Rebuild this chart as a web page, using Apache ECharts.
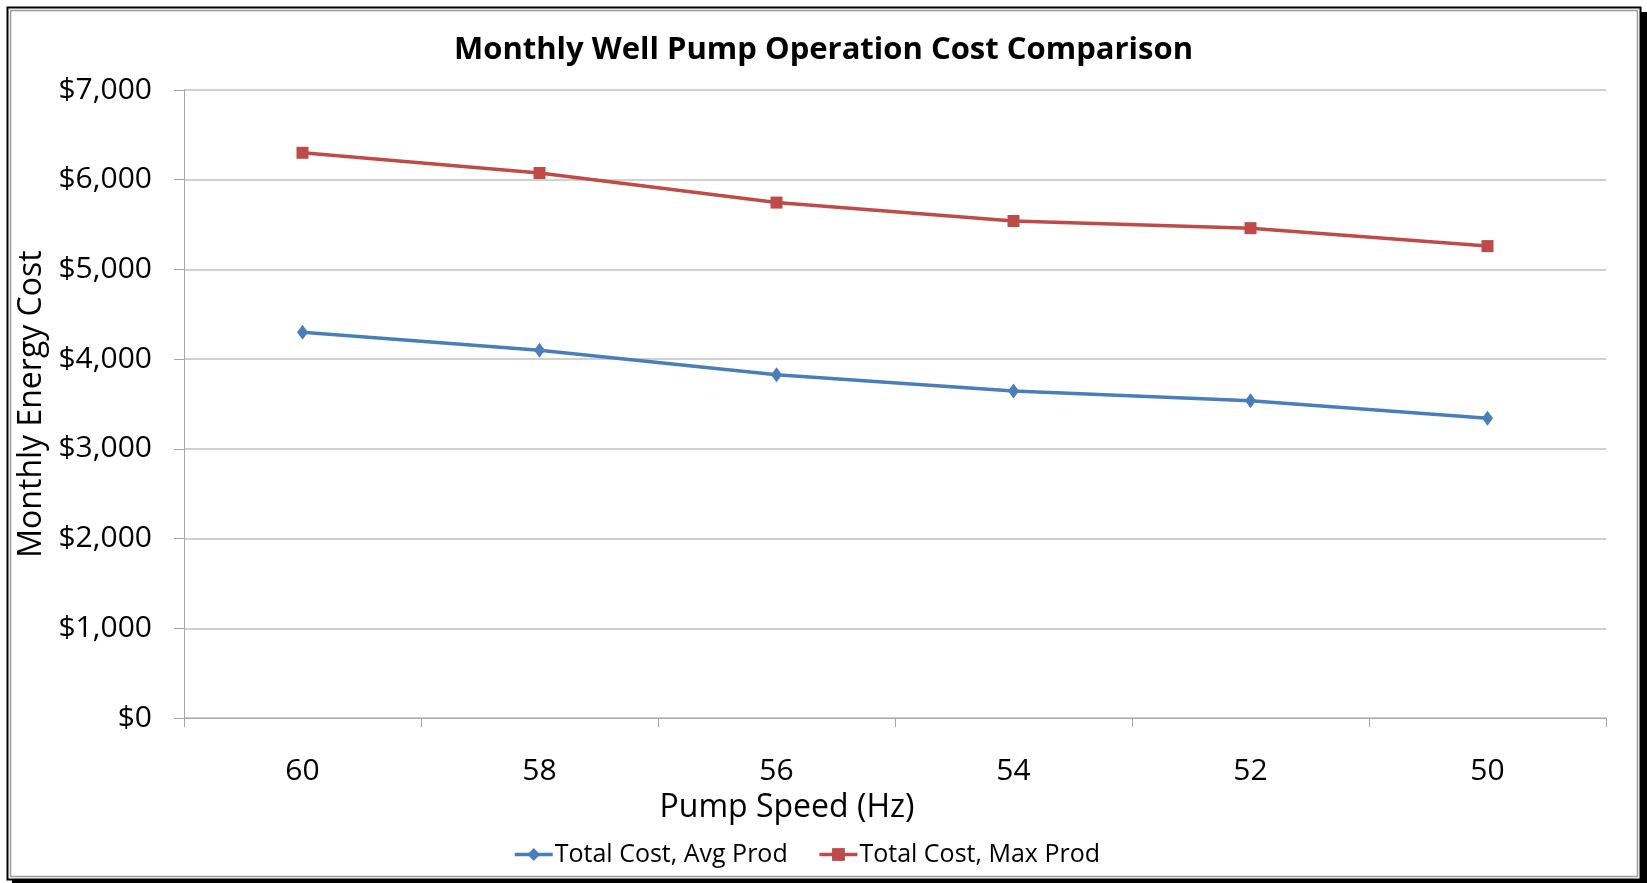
<!DOCTYPE html>
<html>
<head>
<meta charset="utf-8">
<title>Monthly Well Pump Operation Cost Comparison</title>
<script src="https://cdn.jsdelivr.net/npm/echarts@6/dist/echarts.min.js"></script>
<style>
  html, body { margin: 0; padding: 0; background: #fff; }
  #chart { width: 1647px; height: 883px; }
</style>
</head>
<body>
<div id="chart"></div>
<script>
// pump speed categories (Hz)
var speeds = ['60', '58', '56', '54', '52', '50'];
// monthly cost
var avgProd = [4300, 4100, 3825, 3645, 3535, 3340];
var maxProd = [6300, 6075, 5745, 5540, 5460, 5260];
var seriesNames = ['Total Cost, Avg Prod', 'Total Cost, Max Prod'];

var font = '"Open Sans", sans-serif';

function money(v) {
  return '$' + String(v).replace(/\B(?=(\d{3})+(?!\d))/g, ',');
}

var chart = echarts.init(document.getElementById('chart'));

var option = {
  backgroundColor: '#ffffff',
  animation: false,
  textStyle: { fontFamily: font, color: '#000' },
  title: {
    text: 'Monthly Well Pump Operation Cost Comparison',
    left: 'center',
    top: 30,
    textStyle: { fontFamily: font, fontSize: 31, fontWeight: 'bold', color: '#000' }
  },
  legend: {
    data: seriesNames,
    left: 508,
    top: 837,
    itemWidth: 38,
    itemHeight: 16,
    itemGap: 30,
    lineStyle: { width: 3.5 },
    textStyle: { fontFamily: font, fontSize: 25, color: '#000', padding: [0, 0, 0, -3] }
  },
  grid: { left: 184, right: 41, top: 90, bottom: 165 },
  xAxis: {
    type: 'category',
    data: speeds,
    name: 'Pump Speed (Hz)',
    nameLocation: 'middle',
    nameGap: 74,
    nameTextStyle: { fontFamily: font, fontSize: 32, color: '#000', padding: [0, 216, 0, 0] },
    axisLine: { lineStyle: { color: '#a6a6a6', width: 1 } },
    axisTick: { show: true, length: 9, lineStyle: { color: '#a6a6a6' } },
    axisLabel: { fontFamily: font, fontSize: 30, color: '#000', margin: 38 }
  },
  yAxis: {
    type: 'value',
    min: 0,
    max: 7000,
    interval: 1000,
    name: 'Monthly Energy Cost',
    nameLocation: 'middle',
    nameGap: 130,
    nameTextStyle: { fontFamily: font, fontSize: 32, color: '#000' },
    axisLine: { show: true, lineStyle: { color: '#a6a6a6', width: 1 } },
    axisTick: { show: true, length: 10, lineStyle: { color: '#a6a6a6' } },
    axisLabel: { fontFamily: font, fontSize: 30, color: '#000', margin: 32, formatter: money },
    splitLine: { show: true, lineStyle: { color: '#c0c0c0', width: 1.5 } }
  },
  series: [
    {
      name: seriesNames[0],
      type: 'line',
      data: avgProd,
      symbol: 'diamond',
      symbolSize: [11, 15],
      itemStyle: { color: '#4A7EBB' },
      lineStyle: { color: '#4A7EBB', width: 3.5 }
    },
    {
      name: seriesNames[1],
      type: 'line',
      data: maxProd,
      symbol: 'rect',
      symbolSize: 12,
      itemStyle: { color: '#BE4B48' },
      lineStyle: { color: '#BE4B48', width: 3.5 }
    }
  ],
  graphic: [
    // drop shadow on right and bottom
    { type: 'rect', z: -10, silent: true, shape: { x: 1640, y: 12, width: 7, height: 871 }, style: { fill: '#000' } },
    { type: 'rect', z: -10, silent: true, shape: { x: 12, y: 879, width: 1635, height: 4 }, style: { fill: '#000' } },
    // outer frame
    { type: 'rect', z: -10, silent: true, shape: { x: 7.5, y: 7.5, width: 1633, height: 872 }, style: { fill: null, stroke: '#000', lineWidth: 2 } },
    { type: 'rect', z: -10, silent: true, shape: { x: 10.5, y: 10.5, width: 1627, height: 866 }, style: { fill: null, stroke: '#9a9a9a', lineWidth: 1.5 } }
  ]
};

chart.setOption(option);
</script>
</body>
</html>
